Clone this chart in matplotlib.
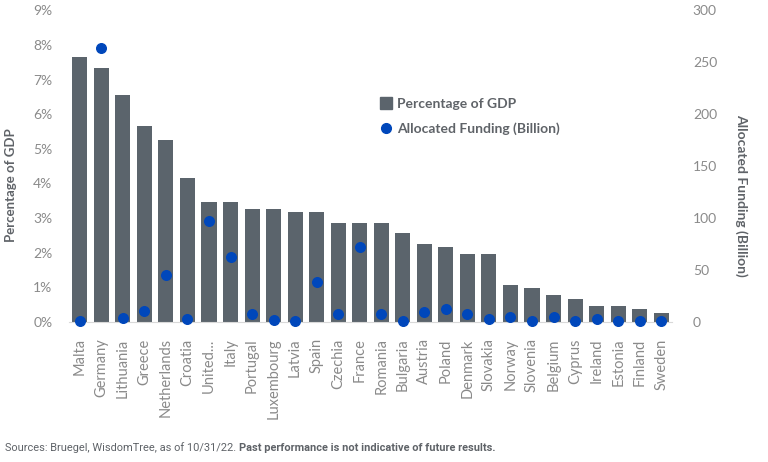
import matplotlib
matplotlib.use("Agg")
import matplotlib.pyplot as plt
from matplotlib.lines import Line2D

countries = ["Malta", "Germany", "Lithuania", "Greece", "Netherlands", "Croatia", "United...",
             "Italy", "Portugal", "Luxembourg", "Latvia", "Spain", "Czechia", "France",
             "Romania", "Bulgaria", "Austria", "Poland", "Denmark", "Slovakia", "Norway",
             "Slovenia", "Belgium", "Cyprus", "Ireland", "Estonia", "Finland", "Sweden"]
pct_gdp = [7.65, 7.33, 6.55, 5.66, 5.25, 4.15, 3.46, 3.46, 3.26, 3.26, 3.17, 3.17, 2.85, 2.85,
           2.85, 2.56, 2.25, 2.16, 1.96, 1.96, 1.06, 0.97, 0.77, 0.66, 0.45, 0.45, 0.37, 0.25]
funding = [0.9, 263.4, 3.3, 10.0, 44.7, 2.3, 96.7, 62.0, 7.1, 2.0, 1.0, 38.0, 7.1, 71.7,
           7.0, 1.0, 9.0, 12.2, 7.1, 2.3, 4.5, 0.5, 4.5, 0.4, 2.3, 0.4, 1.0, 1.0]
left_ticks = [0, 1, 2, 3, 4, 5, 6, 7, 8, 9]
right_ticks = [0, 50, 100, 150, 200, 250, 300]

BAR = "#5b646c"
DOT = "#0047bb"
TXT = "#5f6368"
TICK = "#8a8a8a"
FONT = "Lato"

plt.rcParams['font.family'] = [FONT, 'DejaVu Sans']

fig = plt.figure(figsize=(7.68, 4.62), dpi=100)
ax = fig.add_axes([69/768, 1 - 321.7/462, (672 - 69)/768, (321.7 - 10.3)/462])
x = list(range(len(countries)))
ax.bar(x, pct_gdp, width=0.7, color=BAR, zorder=2)
ax.set_xlim(-0.5, len(countries) - 0.5)
ax.set_ylim(0, 9)
ax.set_yticks(left_ticks)
ax.set_yticklabels([f"{t}%" for t in left_ticks])
ax.set_xticks(x)
ax.set_xticklabels(countries, rotation=90, fontsize=10.5, color=TICK)
ax.tick_params(axis='both', length=0, colors=TICK)
ax.tick_params(axis='y', labelsize=10, pad=12)
ax.tick_params(axis='x', pad=12)
for s in ["top", "right", "left"]:
    ax.spines[s].set_visible(False)
ax.spines["bottom"].set_color("#d9d9d9")

ax2 = ax.twinx()
ax2.scatter(x, funding, s=48, color=DOT, zorder=3, clip_on=False)
ax2.set_ylim(0, 300)
ax2.set_yticks(right_ticks)
ax2.set_yticklabels([str(t) for t in right_ticks])
ax2.tick_params(axis='y', length=0, colors=TICK, labelsize=10, pad=15)
for s in ["top", "right", "left", "bottom"]:
    ax2.spines[s].set_visible(False)

fig.text(11/768, 1 - 185/462, "Percentage of GDP", rotation=90, fontsize=9.5, fontweight='bold',
         color=TXT, ha='center', va='center')
fig.text(741/768, 1 - 195/462, "Allocated Funding (Billion)", rotation=270, fontsize=10,
         fontweight='bold', color=TXT, ha='center', va='center')

handles = [Line2D([0], [0], marker='s', color='none', markerfacecolor=BAR, markeredgecolor=BAR, markersize=8),
           Line2D([0], [0], marker='o', color='none', markerfacecolor=DOT, markeredgecolor=DOT, markersize=7)]
leg = ax2.legend(handles, ["Percentage of GDP", "Allocated Funding (Billion)"],
                 loc='upper left', bbox_to_anchor=(0.495, 0.758), frameon=False,
                 prop={'weight': 'bold', 'size': 10}, handlelength=0.8, handletextpad=0.4,
                 labelspacing=0.9)
for t in leg.get_texts():
    t.set_color(TXT)

fig.text(5/768, 1 - 448/462, "Sources: Bruegel, WisdomTree, as of 10/31/22. ", fontsize=7.9,
         color=TXT, va='center', ha='left', family=['Roboto', 'DejaVu Sans'])
fig.canvas.draw()
t1 = fig.texts[-1]
bb = t1.get_window_extent()
fig.text(bb.x1 / fig.bbox.width, 1 - 448/462, "Past performance is not indicative of future results.",
         fontsize=7.9, color=TXT, va='center', ha='left', fontweight='bold', family=['Roboto', 'DejaVu Sans'])

fig.savefig("out.png", dpi=100)
